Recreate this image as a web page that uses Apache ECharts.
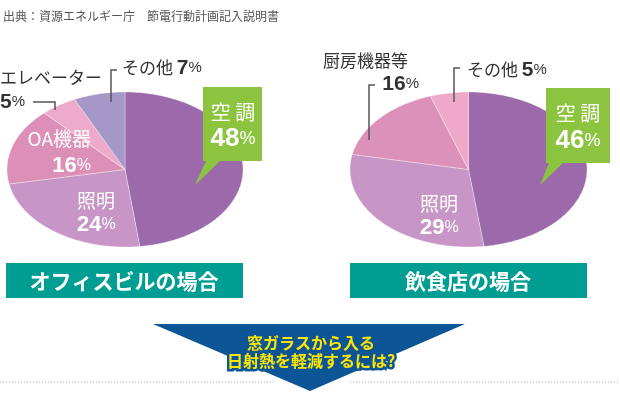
<!DOCTYPE html>
<html><head><meta charset="utf-8">
<script src="https://cdn.jsdelivr.net/npm/echarts@6/dist/echarts.min.js"></script>
<style>html,body{margin:0;padding:0;background:#fff}#c{width:620px;height:400px}</style>
</head><body><div id="c"></div>
<script>
// ---- data ----
const officeNames = ['空調', '照明', 'OA機器', 'エレベーター', 'その他'];
const officeValues = [48, 24, 16, 5, 7];
const restaurantNames = ['空調', '照明', '厨房機器等', 'その他'];
const restaurantValues = [46, 29, 16, 5];
const panelTitles = ['オフィスビルの場合', '飲食店の場合'];
const sourceText = '出典：資源エネルギー庁　節電行動計画記入説明書';
const arrowLines = ['窓ガラスから入る', '日射熱を軽減するには?'];

// ---- styles ----
const officeColors = ['#9c69ab', '#c795c6', '#dc90b8', '#edaacb', '#a597c8'];
const restaurantColors = ['#9c69ab', '#c795c6', '#dc92b8', '#f0a8c8'];
const FONT = '"Noto Sans CJK JP", "Noto Sans", sans-serif';
const NUM = '"Liberation Sans", Arial, sans-serif';

function slices(values) {
  const total = values.reduce((a, b) => a + b, 0);
  let acc = 0;
  return values.map((v, i) => { const s = acc / total; acc += v; return [s, acc / total, v]; });
}
function makeRender(g, colors) {
  return function (params, api) {
    const a0 = api.value(0) * 2 * Math.PI, a1 = api.value(1) * 2 * Math.PI;
    const pts = [[g.cx, g.cy]];
    const n = Math.max(2, Math.ceil((a1 - a0) / (Math.PI / 180)));
    for (let i = 0; i <= n; i++) {
      const a = a0 + (a1 - a0) * i / n;
      pts.push([g.cx + g.rx * Math.sin(a), g.cy - g.ry * Math.cos(a)]);
    }
    return { type: 'polygon', shape: { points: pts },
      style: { fill: colors[params.dataIndex], stroke: 'rgba(255,255,255,0.55)', lineWidth: 0.6 } };
  };
}
const geomL = { cx: 125, cy: 169.5, rx: 118, ry: 77.5 };
const geomR = { cx: 468.5, cy: 169.5, rx: 118.5, ry: 77.5 };

const richDark = {
  n: { fontFamily: FONT, fontSize: 17, fill: '#333', color: '#333' },
  v: { fontFamily: NUM, fontSize: 21, fontWeight: 'bold', fill: '#333', color: '#333' },
  p: { fontFamily: NUM, fontSize: 15, fill: '#333', color: '#333' }
};
const richWhite = {
  n: { fontFamily: FONT, fontSize: 19, fill: '#fff', color: '#fff' },
  v: { fontFamily: NUM, fontSize: 22, fontWeight: 'bold', fill: '#fff', color: '#fff' },
  p: { fontFamily: NUM, fontSize: 16, fill: '#fff', color: '#fff' }
};
const richBox = {
  n: { fontFamily: FONT, fontSize: 20, fill: '#fff', color: '#fff' },
  v: { fontFamily: NUM, fontSize: 26, fontWeight: 'bold', fill: '#fff', color: '#fff' },
  p: { fontFamily: NUM, fontSize: 18, fill: '#fff', color: '#fff' }
};
function pct(v) { return '{v|' + v + '}{p|%}'; }
function txt(x, y, text, rich, align) {
  return { type: 'text', x: x, y: y, z: 10,
    style: { text: text, rich: rich, align: align || 'left', verticalAlign: 'middle' } };
}
function line(points) {
  return { type: 'polyline', z: 5, shape: { points: points }, style: { stroke: '#555', lineWidth: 1.5, fill: null } };
}
function spaced(s) { return s.split('').join(' '); }

const graphic = [
  { type: 'text', x: 3, y: 16, style: { text: sourceText, font: '12px ' + FONT, fill: '#555', verticalAlign: 'middle' } },
  // left labels
  txt(122, 68, '{n|' + officeNames[4] + ' }' + pct(officeValues[4]), richDark),
  line([[117, 70], [111, 70], [111, 102]]),
  txt(0, 78, '{n|' + officeNames[3] + '}', richDark),
  txt(0, 102, pct(officeValues[3]), richDark),
  line([[33, 102], [55, 102], [55, 110]]),
  txt(91, 139, '{n|' + officeNames[2] + '}', richWhite, 'right'),
  txt(91, 166, pct(officeValues[2]), richWhite, 'right'),
  txt(77, 201, '{n|' + officeNames[1] + '}', richWhite),
  txt(77, 225, pct(officeValues[1]), richWhite),
  // left callout
  { type: 'polygon', z: 8, shape: { points: [[203, 87], [262, 87], [262, 161], [220, 161], [195, 185], [206, 161], [203, 161]] }, style: { fill: '#8cc43f' } },
  txt(233, 112, '{n|' + spaced(officeNames[0]) + '}', richBox, 'center'),
  txt(233, 139, pct(officeValues[0]), richBox, 'center'),
  // right labels
  txt(323, 61, '{n|' + restaurantNames[2] + '}', richDark),
  txt(419, 84, pct(restaurantValues[2]), richDark, 'right'),
  line([[375, 85], [369, 85], [369, 140]]),
  txt(467, 70, '{n|' + restaurantNames[3] + ' }' + pct(restaurantValues[3]), richDark),
  line([[460, 68], [454, 68], [454, 102]]),
  txt(420, 204, '{n|' + restaurantNames[1] + '}', richWhite),
  txt(420, 228, pct(restaurantValues[1]), richWhite),
  // right callout
  { type: 'polygon', z: 8, shape: { points: [[546, 88], [610, 88], [610, 163], [563, 163], [540, 185], [549, 163], [546, 163]] }, style: { fill: '#8cc43f' } },
  txt(578, 113, '{n|' + spaced(restaurantNames[0]) + '}', richBox, 'center'),
  txt(578, 141, pct(restaurantValues[0]), richBox, 'center'),
  // panel titles
  { type: 'rect', shape: { x: 6, y: 263, width: 237, height: 35 }, style: { fill: '#009e92' } },
  { type: 'text', x: 124, y: 281, z: 10, style: { text: panelTitles[0], font: 'bold 21px ' + FONT, fill: '#fff', align: 'center', verticalAlign: 'middle' } },
  { type: 'rect', shape: { x: 350, y: 263, width: 237, height: 35 }, style: { fill: '#009e92' } },
  { type: 'text', x: 468, y: 281, z: 10, style: { text: panelTitles[1], font: 'bold 21px ' + FONT, fill: '#fff', align: 'center', verticalAlign: 'middle' } },
  // dotted lines
  { type: 'line', shape: { x1: 0, y1: 382, x2: 275, y2: 382 }, style: { stroke: '#aaa', lineWidth: 1, lineDash: [1, 2] } },
  { type: 'line', shape: { x1: 350, y1: 382, x2: 620, y2: 382 }, style: { stroke: '#aaa', lineWidth: 1, lineDash: [1, 2] } },
  // arrow
  { type: 'polygon', z: 8, shape: { points: [[153, 324], [465, 324], [310, 391]] }, style: { fill: '#0c5597' } },
  { type: 'text', x: 311, y: 343, z: 10, style: { text: arrowLines[0], font: 'bold 16px ' + FONT, fill: '#ffe600', stroke: '#0c5597', lineWidth: 5, align: 'center', verticalAlign: 'middle' } },
  { type: 'text', x: 311, y: 361, z: 10, style: { text: arrowLines[1], font: 'bold 16px ' + FONT, fill: '#ffe600', stroke: '#0c5597', lineWidth: 5, align: 'center', verticalAlign: 'middle' } }
];

const chart = echarts.init(document.getElementById('c'), null, { renderer: 'canvas' });
chart.setOption({
  animation: false,
  backgroundColor: '#fff',
  series: [
    { type: 'custom', coordinateSystem: 'none', renderItem: makeRender(geomL, officeColors),
      data: slices(officeValues), silent: true },
    { type: 'custom', coordinateSystem: 'none', renderItem: makeRender(geomR, restaurantColors),
      data: slices(restaurantValues), silent: true }
  ],
  graphic: graphic
});
</script>
</body></html>
